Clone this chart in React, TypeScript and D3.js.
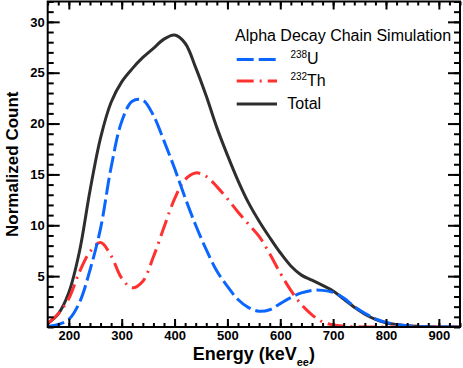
import * as d3 from "d3";
import { useEffect, useRef } from "react";

// energy grid (keVee) and normalized counts
const energy = [
  160, 180, 200, 220, 240, 260, 280, 300, 320, 340, 360, 380, 400, 420, 440,
  460, 480, 500, 520, 540, 560, 580, 600, 620, 640, 660, 680, 700, 720, 740,
  760, 780, 800, 820, 840, 860, 880, 900, 920, 940,
];
const uranium = [
  0.05, 0.25, 0.75, 2.4, 5.6, 9.7, 15.7, 20.2, 22.2, 22.3, 20.8, 18.3, 15.6,
  12.7, 10.0, 7.6, 5.5, 4.0, 2.7, 1.9, 1.55, 1.7, 2.3, 2.9, 3.35, 3.6, 3.6,
  3.4, 2.85, 2.0, 1.35, 0.8, 0.45, 0.25, 0.12, 0.05, 0.02, 0, 0, 0,
];
const thorium = [
  0.35, 1.3, 2.8, 5.4, 7.4, 8.3, 7.0, 4.8, 3.85, 4.5, 6.9, 9.8, 12.6, 14.5,
  15.15, 14.8, 13.8, 12.6, 11.3, 10.1, 8.9, 7.2, 5.3, 3.6, 2.2, 1.2, 0.5, 0.2,
  0.08, 0.03, 0, 0, 0, 0, 0, 0, 0, 0, 0, 0,
];
const total = [
  0.35, 1.3, 3.4, 7.4, 13.4, 18.6, 22.1, 24.1, 25.4, 26.5, 27.4, 28.3, 28.7,
  27.9, 25.5, 22.7, 19.6, 16.9, 14.4, 12.2, 10.4, 8.8, 7.3, 6.0, 5.1, 4.6, 4.1,
  3.55, 2.75, 1.95, 1.25, 0.75, 0.42, 0.25, 0.12, 0.06, 0.03, 0, 0, 0,
];

const xTicks = [200, 300, 400, 500, 600, 700, 800, 900];
const yTicks = [5, 10, 15, 20, 25, 30];
const legendTitle = "Alpha Decay Chain Simulation";

const font = "'Liberation Sans', Arial, Helvetica, sans-serif";

const App = () => {
  const svgRef = useRef<SVGSVGElement>(null);

  useEffect(() => {
    const svg = d3.select(svgRef.current);
    svg.selectAll("*").remove();

    const left = 47.7,
      right = 460,
      top = 1.5,
      bottom = 327;

    const x = d3.scaleLinear().domain([160, 940]).range([left, right]);
    const y = d3.scaleLinear().domain([0, 32]).range([bottom, top]);

    const xMinor = d3.range(160, 941, 20);
    const yMinor = d3.range(0, 33, 1);

    svg
      .append("clipPath")
      .attr("id", "plot-clip")
      .append("rect")
      .attr("x", left)
      .attr("y", top)
      .attr("width", right - left)
      .attr("height", bottom - top);

    const line = (vals: number[]) =>
      d3
        .line<number>()
        .x((_, i) => x(energy[i]))
        .y((d) => y(Math.max(d, 0)))
        .curve(d3.curveCatmullRom.alpha(0.5))(vals);

    const curves = svg.append("g").attr("clip-path", "url(#plot-clip)");
    curves
      .append("path")
      .attr("d", line(total))
      .attr("fill", "none")
      .attr("stroke", "#2e2e2e")
      .attr("stroke-width", 3);
    curves
      .append("path")
      .attr("d", line(thorium))
      .attr("fill", "none")
      .attr("stroke", "#ff3030")
      .attr("stroke-width", 3)
      .attr("stroke-dasharray", "17,6,2,6");
    curves
      .append("path")
      .attr("d", line(uranium))
      .attr("fill", "none")
      .attr("stroke", "#0a66ff")
      .attr("stroke-width", 3)
      .attr("stroke-dasharray", "17,5");

    // axes, ticks pointing inward on all four sides
    const axisStyle = (g: any) => {
      g.select(".domain").remove();
      g.selectAll("line").attr("stroke", "#000").attr("stroke-width", 2);
      g.selectAll("text")
        .attr("font-family", font)
        .attr("font-weight", "bold")
        .attr("font-size", 13)
        .attr("fill", "#000");
    };

    svg
      .append("g")
      .attr("transform", `translate(0,${bottom})`)
      .call(d3.axisBottom(x).tickValues(xMinor).tickSize(-4).tickFormat(() => ""))
      .call(axisStyle);
    svg
      .append("g")
      .attr("transform", `translate(0,${bottom})`)
      .call(d3.axisBottom(x).tickValues(xTicks).tickSize(-8).tickPadding(3.5))
      .call(axisStyle);
    svg
      .append("g")
      .attr("transform", `translate(0,${top})`)
      .call(d3.axisTop(x).tickValues(xMinor).tickSize(-4).tickFormat(() => ""))
      .call(axisStyle);
    svg
      .append("g")
      .attr("transform", `translate(0,${top})`)
      .call(d3.axisTop(x).tickValues(xTicks).tickSize(-8).tickFormat(() => ""))
      .call(axisStyle);

    svg
      .append("g")
      .attr("transform", `translate(${left},0)`)
      .call(d3.axisLeft(y).tickValues(yMinor).tickSize(-6).tickFormat(() => ""))
      .call(axisStyle);
    svg
      .append("g")
      .attr("transform", `translate(${left},0)`)
      .call(d3.axisLeft(y).tickValues(yTicks).tickSize(-12).tickPadding(3))
      .call(axisStyle);
    svg
      .append("g")
      .attr("transform", `translate(${right},0)`)
      .call(d3.axisRight(y).tickValues(yMinor).tickSize(-6).tickFormat(() => ""))
      .call(axisStyle);
    svg
      .append("g")
      .attr("transform", `translate(${right},0)`)
      .call(d3.axisRight(y).tickValues(yTicks).tickSize(-12).tickFormat(() => ""))
      .call(axisStyle);

    // frame
    svg
      .append("rect")
      .attr("x", left)
      .attr("y", top)
      .attr("width", right - left)
      .attr("height", bottom - top)
      .attr("fill", "none")
      .attr("stroke", "#000")
      .attr("stroke-width", 2);

    // axis titles
    const xt = svg
      .append("text")
      .attr("x", (left + right) / 2)
      .attr("y", 360)
      .attr("text-anchor", "middle")
      .attr("font-family", font)
      .attr("font-weight", "bold")
      .attr("font-size", 18);
    xt.append("tspan").text("Energy (keV");
    xt.append("tspan").attr("font-size", 11).attr("dy", 6).text("ee");
    xt.append("tspan").attr("dy", -6).text(")");

    svg
      .append("text")
      .attr("transform", `translate(18.3,${(top + bottom) / 2}) rotate(-90)`)
      .attr("text-anchor", "middle")
      .attr("font-family", font)
      .attr("font-weight", "bold")
      .attr("font-size", 17)
      .text("Normalized Count");

    // legend
    const lg = svg.append("g").attr("font-family", font).attr("fill", "#000");
    lg.append("text")
      .attr("x", 235)
      .attr("y", 40.7)
      .attr("font-size", 16)
      .text(legendTitle);

    const entries = [
      { mass: "238", name: "U", color: "#0a66ff", dash: "17,5", ly: 59.5, ty: 64.3 },
      { mass: "232", name: "Th", color: "#ff3030", dash: "17,6,2,6", ly: 81, ty: 86 },
      { mass: "", name: "Total", color: "#2e2e2e", dash: null, ly: 104, ty: 109 },
    ];
    entries.forEach((e) => {
      const l = lg
        .append("line")
        .attr("x1", 236.7)
        .attr("x2", 277)
        .attr("y1", e.ly)
        .attr("y2", e.ly)
        .attr("stroke", e.color)
        .attr("stroke-width", 3);
      if (e.dash) l.attr("stroke-dasharray", e.dash);
      if (e.mass) {
        lg.append("text")
          .attr("x", 290.5)
          .attr("y", e.ty - 6)
          .attr("font-size", 10)
          .text(e.mass);
        lg.append("text")
          .attr("x", 307)
          .attr("y", e.ty)
          .attr("font-size", 16)
          .text(e.name);
      } else {
        lg.append("text")
          .attr("x", 287.3)
          .attr("y", e.ty)
          .attr("font-size", 16)
          .text(e.name);
      }
    });
  }, []);

  return (
    <div>
      <svg
        ref={svgRef}
        width={463}
        height={368}
        style={{ position: "absolute", left: 0, top: 0, background: "#fff" }}
      ></svg>
    </div>
  );
};

export default App;
